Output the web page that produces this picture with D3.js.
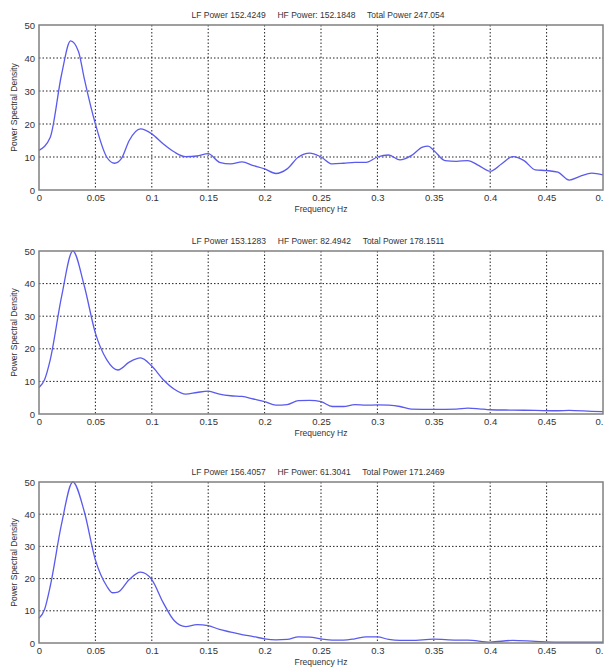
<!DOCTYPE html>
<html>
<head>
<meta charset="utf-8">
<script src="https://cdn.jsdelivr.net/npm/d3@7"></script>
<style>
  body { margin: 0; background: #fff; }
  text { font-family: "Liberation Sans", Arial, sans-serif; }
</style>
</head>
<body>
<div id="container"></div>
<script>
// tick labels
var xTicks = [0, 0.05, 0.1, 0.15, 0.2, 0.25, 0.3, 0.35, 0.4, 0.45, 0.5];
var xTickLabels = ["0", "0.05", "0.1", "0.15", "0.2", "0.25", "0.3", "0.35", "0.4", "0.45", "0."];
var yTicks = [0, 10, 20, 30, 40, 50];

var titles = [
  "LF Power 152.4249     HF Power: 152.1848     Total Power 247.054",
  "LF Power 153.1283     HF Power: 82.4942     Total Power 178.1511",
  "LF Power 156.4057     HF Power: 61.3041     Total Power 171.2469"
];

// frequency / psd pairs
var psd1 = [
  [0, 12.0], [0.01, 16], [0.02, 35], [0.028, 45.2], [0.035, 42], [0.04, 34], [0.05, 20],
  [0.06, 10], [0.067, 8.1], [0.073, 9.5], [0.08, 15], [0.09, 18.5], [0.1, 17],
  [0.11, 14], [0.12, 11.5], [0.13, 10.1], [0.14, 10.3], [0.15, 11], [0.16, 8.4],
  [0.17, 7.9], [0.18, 8.5], [0.19, 7.4], [0.2, 6.4], [0.21, 5.0], [0.22, 6.4],
  [0.23, 10], [0.24, 11.2], [0.25, 10], [0.26, 7.9], [0.27, 8.1], [0.28, 8.4],
  [0.29, 8.4], [0.3, 10], [0.31, 10.6], [0.32, 9.1], [0.33, 10.4], [0.34, 13],
  [0.345, 13.3], [0.35, 12], [0.36, 8.9], [0.37, 8.7], [0.38, 8.9], [0.39, 7.4],
  [0.4, 5.7], [0.41, 7.9], [0.42, 10.1], [0.43, 8.9], [0.44, 6.1], [0.45, 5.9],
  [0.46, 5.4], [0.47, 3.0], [0.48, 4.2], [0.49, 5.1], [0.5, 4.6]
];
var psd2 = [
  [0, 8.1], [0.005, 10.6], [0.01, 16.7], [0.02, 36], [0.03, 50], [0.04, 39.5],
  [0.05, 24.8], [0.06, 16.7], [0.07, 13.5], [0.08, 15.9], [0.09, 17.2], [0.1, 14.7],
  [0.11, 10.6], [0.12, 7.6], [0.13, 6.1], [0.14, 6.6], [0.15, 7.0], [0.16, 6.1],
  [0.17, 5.6], [0.18, 5.4], [0.19, 4.6], [0.2, 3.8], [0.21, 2.7], [0.22, 2.9],
  [0.23, 4.1], [0.24, 4.2], [0.25, 3.8], [0.26, 2.3], [0.27, 2.3], [0.28, 2.9],
  [0.29, 2.7], [0.3, 2.8], [0.31, 2.7], [0.32, 2.3], [0.33, 1.5], [0.35, 1.4],
  [0.37, 1.5], [0.38, 1.8], [0.39, 1.6], [0.4, 1.3], [0.42, 1.2], [0.44, 1.1],
  [0.46, 1.0], [0.47, 1.1], [0.49, 0.8], [0.5, 0.7]
];
var psd3 = [
  [0, 7.7], [0.005, 10.5], [0.01, 17.7], [0.02, 37], [0.03, 50], [0.04, 41],
  [0.05, 25.8], [0.06, 17.7], [0.065, 15.6], [0.07, 15.8], [0.08, 19.7], [0.09, 22],
  [0.1, 19.7], [0.11, 12.6], [0.12, 6.9], [0.13, 5.1], [0.14, 5.7], [0.15, 5.4],
  [0.16, 4.2], [0.17, 3.4], [0.18, 2.6], [0.19, 2.0], [0.2, 1.3], [0.21, 1.0],
  [0.22, 1.1], [0.23, 1.9], [0.24, 1.8], [0.25, 1.3], [0.26, 0.9], [0.27, 0.9],
  [0.28, 1.3], [0.29, 1.9], [0.3, 1.9], [0.31, 1.1], [0.32, 0.8], [0.33, 0.8],
  [0.35, 1.2], [0.37, 0.9], [0.38, 0.9], [0.4, 0.3], [0.42, 0.8], [0.44, 0.5],
  [0.46, 0.3], [0.5, 0.3]
];

var series = [psd1, psd2, psd3];
var panelTops = [25, 251, 482];
var panelHeights = [165, 163, 161];

var W = 604, H = 669;
var left = 39, right = 603;

var svg = d3.select("#container").append("svg")
  .attr("width", W).attr("height", H);

var xScale = d3.scaleLinear().domain([0, 0.5]).range([left, right]);

series.forEach(function(data, k) {
  var top = panelTops[k], h = panelHeights[k];
  var yScale = d3.scaleLinear().domain([0, 50]).range([top + h, top]);

  var g = svg.append("g");

  // grid, dotted
  g.selectAll("line.vgrid")
    .data(xTicks.slice(1, -1)).enter().append("line")
    .attr("x1", function(d) { return xScale(d); })
    .attr("x2", function(d) { return xScale(d); })
    .attr("y1", top).attr("y2", top + h)
    .attr("stroke", "#222").attr("stroke-width", 1)
    .attr("stroke-dasharray", "1.5,2");
  g.selectAll("line.hgrid")
    .data(yTicks.slice(1, -1)).enter().append("line")
    .attr("x1", left).attr("x2", right)
    .attr("y1", function(d) { return yScale(d); })
    .attr("y2", function(d) { return yScale(d); })
    .attr("stroke", "#222").attr("stroke-width", 1)
    .attr("stroke-dasharray", "1.5,2");

  // curve
  var line = d3.line()
    .x(function(d) { return xScale(d[0]); })
    .y(function(d) { return yScale(d[1]); })
    .curve(d3.curveMonotoneX);
  g.append("path")
    .datum(data)
    .attr("d", line)
    .attr("fill", "none")
    .attr("stroke", "#5a5aee")
    .attr("stroke-width", 1.3);

  // box
  g.append("rect")
    .attr("x", left).attr("y", top)
    .attr("width", right - left).attr("height", h)
    .attr("fill", "none").attr("stroke", "#808080").attr("stroke-width", 1.5);

  // x axis ticks
  var xAxis = d3.axisBottom(xScale).tickValues(xTicks)
    .tickSize(0).tickPadding(4)
    .tickFormat(function(d, i) { return xTickLabels[i]; });
  var gx = g.append("g")
    .attr("transform", "translate(0," + (top + h) + ")")
    .call(xAxis);
  gx.select(".domain").remove();
  gx.selectAll("text").style("font-size", "9.5px").attr("fill", "#333")
    .attr("font-family", "Liberation Sans, Arial, sans-serif")
    .attr("dx", function(d, i) { return i === xTicks.length - 1 ? -4 : 0; });

  var yAxis = d3.axisLeft(yScale).tickValues(yTicks)
    .tickSize(0).tickPadding(4);
  var gy = g.append("g")
    .attr("transform", "translate(" + left + ",0)")
    .call(yAxis);
  gy.select(".domain").remove();
  gy.selectAll("text").style("font-size", "9.5px").attr("fill", "#333")
    .attr("font-family", "Liberation Sans, Arial, sans-serif");

  // title
  g.append("text")
    .attr("x", (left + right) / 2 - 3)
    .attr("y", top - 7)
    .attr("text-anchor", "middle")
    .style("white-space", "pre")
    .style("font-size", "8.5px")
    .attr("fill", "#333")
    .text(titles[k]);

  // x label
  g.append("text")
    .attr("x", (left + right) / 2)
    .attr("y", top + h + 22)
    .attr("text-anchor", "middle")
    .style("font-size", "8.5px")
    .attr("fill", "#333")
    .text("Frequency Hz");

  // y label
  g.append("text")
    .attr("transform", "translate(17," + (top + h / 2) + ") rotate(-90)")
    .attr("text-anchor", "middle")
    .style("font-size", "8.5px")
    .attr("fill", "#333")
    .text("Power Spectral Density");
});
</script>
</body>
</html>
